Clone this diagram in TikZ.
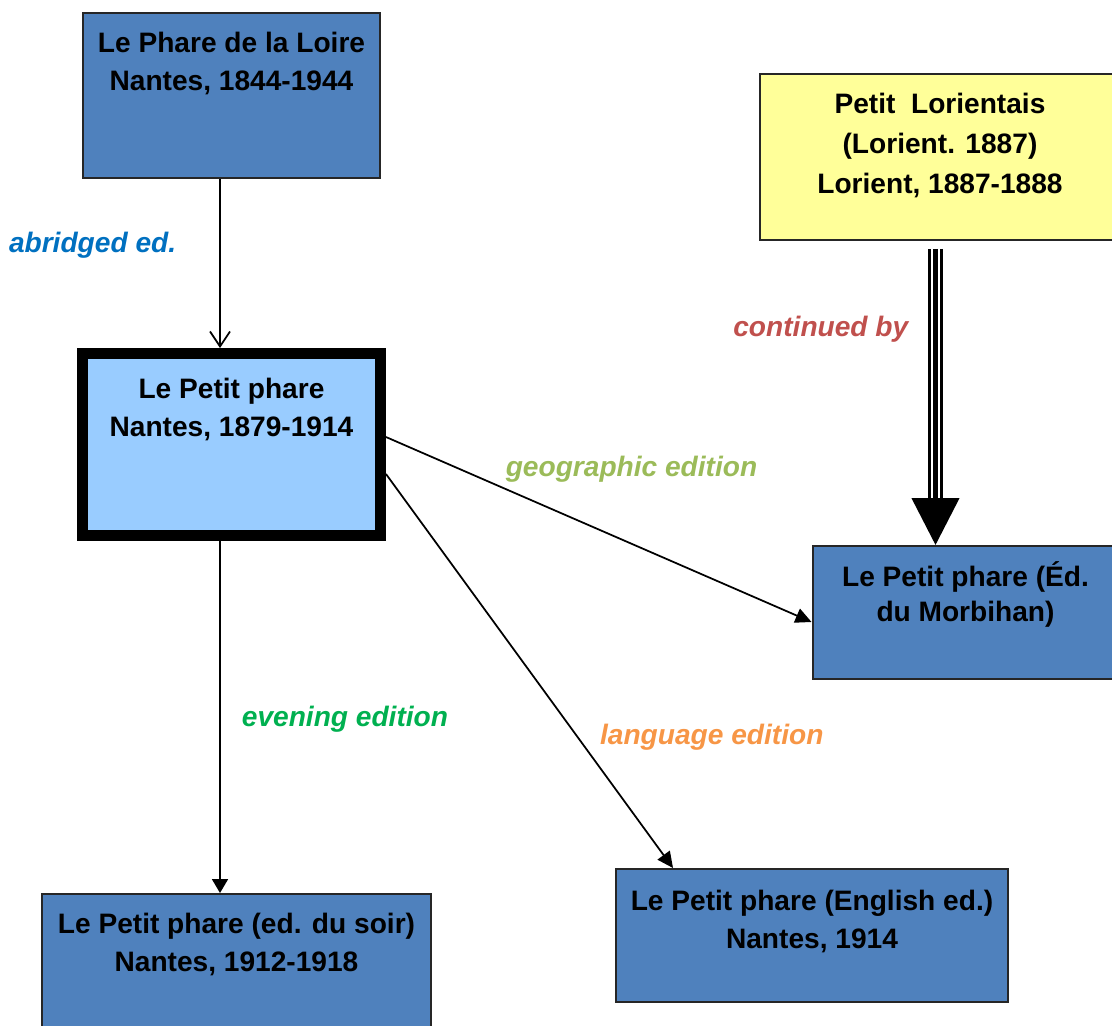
\documentclass[tikz,border=0pt]{standalone}
\usepackage{fontspec}
\setmainfont{Liberation Sans}
\usetikzlibrary{positioning,arrows.meta}

\definecolor{boxblue}{HTML}{4F81BD}
\definecolor{lightblue}{HTML}{99CCFF}
\definecolor{paleyellow}{HTML}{FFFF99}
\definecolor{abridgedcol}{HTML}{0070C0}
\definecolor{continuedcol}{HTML}{C0504D}
\definecolor{geocol}{HTML}{9BBB59}
\definecolor{eveningcol}{HTML}{00B050}
\definecolor{langcol}{HTML}{F79646}

\tikzset{
  box/.style={rectangle, draw=black!85, line width=0.04cm, fill=boxblue},
  boxtext/.style={align=center, inner sep=0pt, font=\bfseries\fontsize{16}{21.5}\selectfont},
  elabel/.style={inner sep=0pt, font=\bfseries\itshape\fontsize{16}{19}\selectfont},
  link/.style={line width=0.035cm, -{Triangle[length=0.32cm,width=0.3cm]}},
}

\begin{document}
\begin{tikzpicture}[x=0.02cm, y=-0.02cm]

		\useasboundingbox (0,0) rectangle (1112,1025);
		\clip (0,0) rectangle (1112,1025);

		%the source papers
		\node[box, minimum width=5.94cm, minimum height=3.30cm] (phare) at (231.5,95.5) {};
		\node[boxtext, below=0.4cm of phare.north] (pharetext) {Le Phare de la Loire\\Nantes, 1844-1944};

		\node[box, fill=paleyellow, minimum width=7.2cm, minimum height=3.32cm] (lorientais) at (940,157) {};
		\node[boxtext, font=\bfseries\fontsize{16}{22.7}\selectfont, below=0.4cm of lorientais.north] (lorientaistext) {Petit\ \ Lorientais\\(Lorient. 1887)\\Lorient, 1887-1888};

		%the central paper
		\node[box, fill=lightblue, line width=0.22cm, draw=black, minimum width=5.96cm, minimum height=3.64cm] (petit) at (231.5,444.5) {};
		\node[boxtext, below=0.6cm of petit.north] (petittext) {Le Petit phare\\Nantes, 1879-1914};

		%the editions
		\node[box, minimum width=6.12cm, minimum height=2.66cm] (morbihan) at (965.5,612.5) {};
		\node[boxtext, font=\bfseries\fontsize{16}{19.8}\selectfont, below=0.32cm of morbihan.north] (morbihantext) {Le Petit phare (Éd.\\du Morbihan)};

		\node[box, minimum width=7.78cm, minimum height=2.8cm] (soir) at (236.5,964) {};
		\node[boxtext, below=0.4cm of soir.north] (soirtext) {Le Petit phare (ed. du soir)\\Nantes, 1912-1918};

		\node[box, minimum width=7.84cm, minimum height=2.66cm] (english) at (812,935.5) {};
		\node[boxtext, below=0.44cm of english.north] (englishtext) {Le Petit phare (English ed.)\\Nantes, 1914};

		% the relations
		\draw[line width=0.035cm, -{Straight Barb[length=0.3cm,width=0.4cm]}] ([xshift=-0.23cm]phare.south) -- node[elabel, text=abridgedcol, pos=0.39, left=0.86cm] (abridged) {abridged ed.} ([xshift=-0.23cm]petit.north);
		\draw[link] ([yshift=0.15cm]petit.east) -- node[elabel, text=geocol, pos=0.577, yshift=1.5cm] (geographic) {geographic edition} ([yshift=-0.19cm]morbihan.west);
		\draw[link] ([yshift=-0.59cm]petit.east) -- node[elabel, text=langcol, pos=0.668, right=0.43cm] (language) {language edition} ([xshift=-2.78cm]english.north);
		\draw[link, -{Triangle[length=0.28cm,width=0.32cm]}] ([xshift=-0.23cm]petit.south) -- node[elabel, text=eveningcol, pos=0.506, right=0.42cm] (evening) {evening edition} ([xshift=-0.23cm]petit.south |- soir.north);

		% continued by: triple line with a big head
		\draw[line width=0.065cm, double distance=0.18cm, shorten <=0.16cm, shorten >=0.94cm] ([xshift=-0.09cm]lorientais.south) -- ([xshift=-0.09cm]lorientais.south |- morbihan.north);
		\draw[line width=0.09cm, shorten <=0.16cm, -{Triangle[length=0.94cm,width=0.94cm]}] ([xshift=-0.09cm]lorientais.south) -- node[elabel, text=continuedcol, pos=0.29, left=0.5cm] (continued) {continued by} ([xshift=-0.09cm]lorientais.south |- morbihan.north);

	\end{tikzpicture}
\end{document}
